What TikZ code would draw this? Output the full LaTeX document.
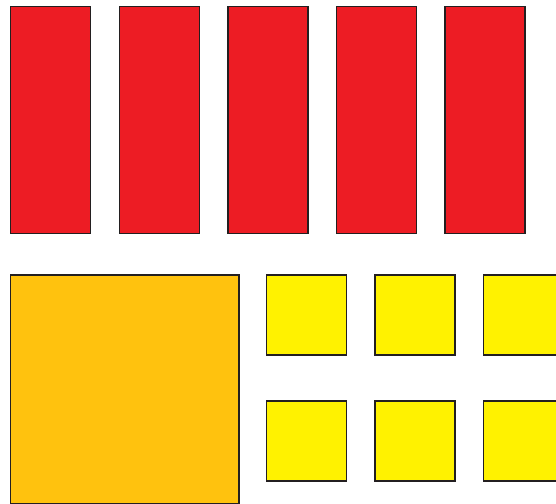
\documentclass[tikz,border=0pt]{standalone}
\definecolor{redfill}{HTML}{ED1C24}
\definecolor{orangefill}{HTML}{FFC20E}
\definecolor{yellowfill}{HTML}{FFF200}
\definecolor{edge}{HTML}{231F20}
\tikzset{
  bar/.style={draw=edge, line width=1.3pt, fill=redfill, minimum width=80pt, minimum height=227pt, inner sep=0pt, outer sep=0pt, anchor=north west},
  bigsq/.style={draw=edge, line width=1.3pt, fill=orangefill, minimum width=228.5pt, minimum height=229pt, inner sep=0pt, outer sep=0pt, anchor=north west},
  smallsq/.style={draw=edge, line width=1.3pt, fill=yellowfill, minimum width=80pt, minimum height=80pt, inner sep=0pt, outer sep=0pt, anchor=north west}
}
\begin{document}
\begin{tikzpicture}[x=1pt,y=-1pt]
\useasboundingbox (0,0) rectangle (556,503);
\clip (0,0) rectangle (556,503);
\node[bar] (r1) at (10.5,6.5) {};
\node[bar] (r2) at (119.5,6.5) {};
\node[bar] (r3) at (228,6.5) {};
\node[bar] (r4) at (336.5,6.5) {};
\node[bar] (r5) at (445,6.5) {};
\node[bigsq] (o) at (10.5,275) {};
\node[smallsq] (y1) at (266.5,275) {};
\node[smallsq] (y2) at (375,275) {};
\node[smallsq] (y3) at (483.5,275) {};
\node[smallsq] (y4) at (266.5,401) {};
\node[smallsq] (y5) at (375,401) {};
\node[smallsq] (y6) at (483.5,401) {};
\end{tikzpicture}
\end{document}
